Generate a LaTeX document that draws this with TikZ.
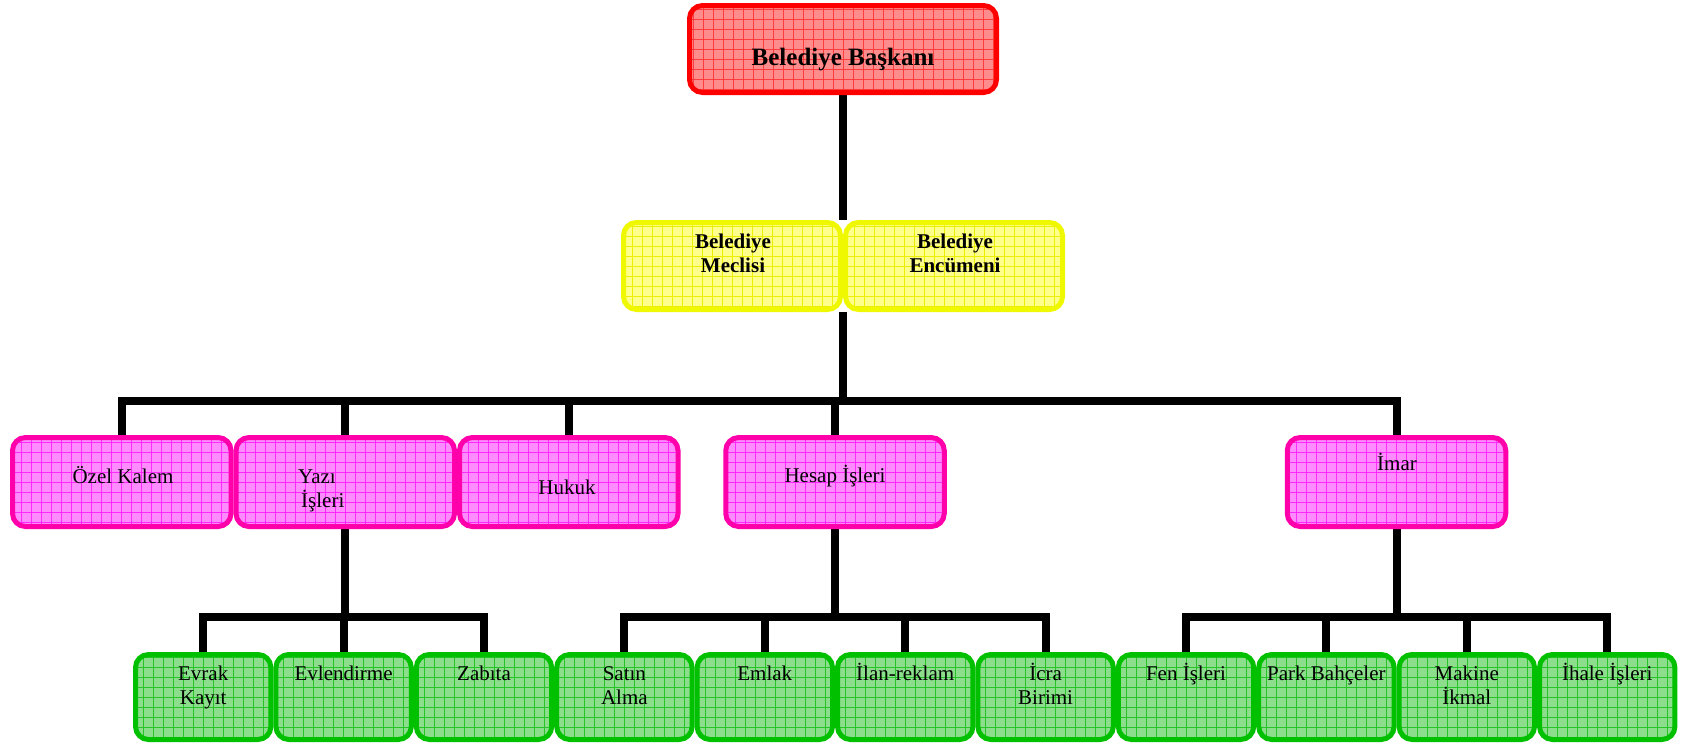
\documentclass[tikz,border=0pt]{standalone}
\usepackage{fontspec}
\setmainfont{Liberation Serif}
\definecolor{rborder}{RGB}{255,0,0}
\definecolor{rfill}{RGB}{255,140,140}
\definecolor{rgrid}{RGB}{255,60,60}
\definecolor{yborder}{RGB}{240,248,0}
\definecolor{yfill}{RGB}{255,255,140}
\definecolor{ygrid}{RGB}{238,238,0}
\definecolor{mborder}{RGB}{255,0,170}
\definecolor{mfill}{RGB}{255,140,255}
\definecolor{mgrid}{RGB}{255,40,255}
\definecolor{gborder}{RGB}{0,192,0}
\definecolor{gfill}{RGB}{140,222,140}
\definecolor{ggrid}{RGB}{40,195,40}
\pgfdeclarelayer{background}
\pgfsetlayers{background,main}
\newcommand\twoln[2]{\vtop{\halign{\hfil##\hfil\cr#1\cr#2\cr}}}
\tikzset{
  box/.style={draw, rounded corners=13pt, line width=5pt, inner sep=0pt},
  gridded/.style={path picture={\draw[#1, line width=0.6pt, step=10pt]
      (path picture bounding box.south west) grid (path picture bounding box.north east);}},
  rbox/.style={box, draw=rborder, fill=rfill, gridded=rgrid, minimum width=307pt, minimum height=87pt},
  ybox/.style={box, draw=yborder, fill=yfill, gridded=ygrid, minimum width=217pt, minimum height=87pt},
  mbox/.style={box, draw=mborder, fill=mfill, gridded=mgrid, minimum width=218.5pt, minimum height=89pt},
  gbox/.style={box, draw=gborder, fill=gfill, gridded=ggrid, minimum width=135.4pt, minimum height=85pt},
  txt/.style={font=\fontsize{21}{24}\selectfont, inner sep=0pt, anchor=base, text=black},
  btxt/.style={txt, font=\fontsize{21}{24}\selectfont\bfseries},
  ttxt/.style={txt, font=\fontsize{25}{28}\selectfont\bfseries},
  conn/.style={draw=black, line width=8pt, line join=miter, line cap=butt}
}
\newcommand\gbx[3]{\node[gbox] (#1) at (#2,697) {};
  \node[txt] (t#1) at (#2,680) {#3};}
\begin{document}
\begin{tikzpicture}[x=1pt,y=-1pt]
\useasboundingbox (0,0) rectangle (1684,744);
% boxes and texts
\node[rbox] (baskan) at (843,49) {};
\node[ttxt] (tbaskan) at (843,65) {Belediye Başkanı};
\node[ybox] (meclis) at (732,266) {};
\node[btxt] (tmeclis) at (733,248) {\twoln{Belediye}{Meclisi}};
\node[ybox] (encumen) at (954,266) {};
\node[btxt] (tencumen) at (955,248) {\twoln{Belediye}{Encümeni}};
\node[mbox] (ozel) at (121.75,482) {};
\node[txt] (tozel) at (123,483) {Özel Kalem};
\node[mbox] (yazi) at (345.25,482) {};
\node[txt, anchor=base west] (tyazi) at (298,483) {\vtop{\hbox{Yazı}\hbox{\kern3pt İşleri}}};
\node[mbox] (hukuk) at (568.75,482) {};
\node[txt] (thukuk) at (567,494) {Hukuk};
\node[mbox] (hesap) at (835,482) {};
\node[txt] (thesap) at (835,482) {Hesap İşleri};
\node[mbox] (imar) at (1396.5,482) {};
\node[txt] (timar) at (1397,470) {İmar};
\gbx{evrak}{203.2}{\twoln{Evrak}{Kayıt}}
\gbx{evlen}{343.6}{Evlendirme}
\gbx{zabita}{484}{Zabıta}
\gbx{satin}{624.4}{\twoln{Satın}{Alma}}
\gbx{emlak}{764.8}{Emlak}
\gbx{ilan}{905.2}{İlan-reklam}
\gbx{icra}{1045.6}{\twoln{İcra}{Birimi}}
\gbx{fen}{1186}{Fen İşleri}
\gbx{park}{1326.4}{Park Bahçeler}
\gbx{makine}{1466.8}{\twoln{Makine}{İkmal}}
\gbx{ihale}{1607.2}{İhale İşleri}
% bus coordinates
\coordinate (bus1) at (843,400.5);
\coordinate (busa) at (345,617);
\coordinate (busb) at (835,617);
\coordinate (busc) at (1397,617);
% connectors, behind the boxes
\begin{pgfonlayer}{background}
\draw[conn] (baskan.south) -- (baskan.south |- encumen.north);
\draw[conn] (meclis.south east) -- (bus1);
\draw[conn] (ozel.north) |- (bus1) -| (imar.north);
\draw[conn] (yazi.north) -- (yazi.north |- bus1);
\draw[conn] (hukuk.north) -- (hukuk.north |- bus1);
\draw[conn] (hesap.north) -- (hesap.north |- bus1);
\draw[conn] (yazi.south) -- (yazi.south |- busa);
\draw[conn] (evrak.north) |- (busa) -| (zabita.north);
\draw[conn] (evlen.north) -- (evlen.north |- busa);
\draw[conn] (hesap.south) -- (hesap.south |- busb);
\draw[conn] (satin.north) |- (busb) -| (icra.north);
\draw[conn] (emlak.north) -- (emlak.north |- busb);
\draw[conn] (ilan.north) -- (ilan.north |- busb);
\draw[conn] (imar.south) -- (imar.south |- busc);
\draw[conn] (fen.north) |- (busc) -| (ihale.north);
\draw[conn] (park.north) -- (park.north |- busc);
\draw[conn] (makine.north) -- (makine.north |- busc);
\end{pgfonlayer}
\end{tikzpicture}
\end{document}
